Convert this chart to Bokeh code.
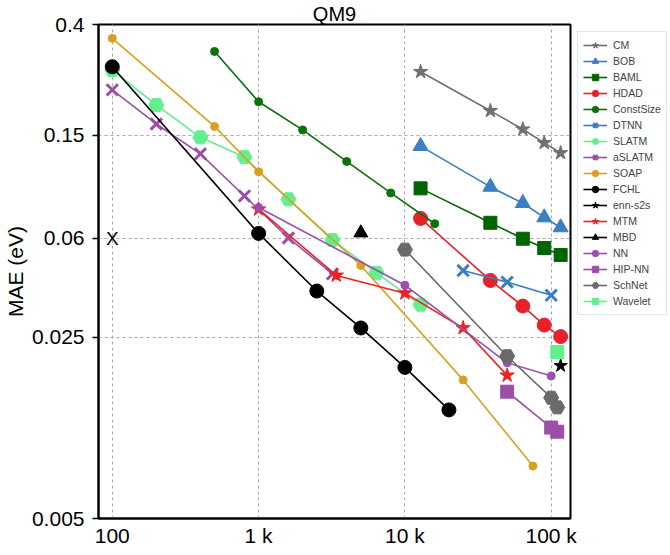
from bokeh.plotting import figure
from bokeh.models import FixedTicker, Legend, LegendItem, Range1d
from bokeh.core.properties import value
from bokeh.embed import file_html
from bokeh.resources import INLINE

FONT = "Liberation Sans"

# ---- axes ----
x_ticks = [100, 1000, 10000, 100000]
x_tick_labels = ["100", "1 k", "10 k", "100 k"]
y_ticks = [0.005, 0.025, 0.06, 0.15, 0.4]
y_tick_labels = ["0.005", "0.025", "0.06", "0.15", "0.4"]

# ---- data (training set size N, MAE in eV) ----
cm_n = [12800, 38400, 64000, 89600, 116000]
cm_mae = [0.263, 0.186, 0.158, 0.140, 0.128]

bob_n = [12800, 38400, 64000, 89600, 116000]
bob_mae = [0.136, 0.0947, 0.082, 0.0722, 0.0661]

baml_n = [12800, 38400, 64000, 89600, 116000]
baml_mae = [0.0935, 0.0689, 0.0598, 0.0551, 0.0518]

hdad_n = [12800, 38400, 64000, 89600, 116000]
hdad_mae = [0.0716, 0.0413, 0.0329, 0.0278, 0.0251]

constsize_n = [500, 1000, 2000, 4000, 8000, 16000]
constsize_mae = [0.315, 0.2015, 0.157, 0.1187, 0.0898, 0.0683]

dtnn_n = [25000, 50000, 100000]
dtnn_mae = [0.0451, 0.0407, 0.0362]

slatm_n = [100, 200, 400, 800, 1600, 3200, 6400, 12800]
slatm_mae = [0.267, 0.196, 0.147, 0.1234, 0.0849, 0.0591, 0.0442, 0.0333]

aslatm_n = [100, 200, 400, 800, 1600, 3200]
aslatm_mae = [0.224, 0.1655, 0.127, 0.0874, 0.0602, 0.0438]

soap_n = [100, 500, 1000, 5000, 25000, 75000]
soap_mae = [0.354, 0.162, 0.1084, 0.0472, 0.0171, 0.00796]

fchl_n = [100, 1000, 2500, 5000, 10000, 20000]
fchl_mae = [0.275, 0.0627, 0.0376, 0.0271, 0.0191, 0.0131]

enn_n = [116000]
enn_mae = [0.0194]

mtm_n = [1000, 3400, 10000, 25000, 50000]
mtm_mae = [0.0777, 0.0432, 0.0369, 0.0271, 0.0178]

mbd_n = [5000]
mbd_mae = [0.063]

nn_n = [1000, 10000, 50000, 100000]
nn_mae = [0.0789, 0.0396, 0.0199, 0.0177]

hipnn_n = [50000, 100000, 110000]
hipnn_mae = [0.0154, 0.0112, 0.0108]

schnet_n = [10000, 50000, 100000, 110000]
schnet_mae = [0.0543, 0.0211, 0.0146, 0.0134]

wavelet_n = [110000]
wavelet_mae = [0.0219]

xmark_n = [100]
xmark_mae = [0.06]
xmark_text = ["X"]

series = [
    ("CM", cm_n, cm_mae, "#707070", "star", 15),
    ("BOB", bob_n, bob_mae, "#3a7fc1", "triangle", 15),
    ("BAML", baml_n, baml_mae, "#006400", "square", 13),
    ("HDAD", hdad_n, hdad_mae, "#e8202a", "circle", 14),
    ("ConstSize", constsize_n, constsize_mae, "#0a720a", "circle", 8),
    ("DTNN", dtnn_n, dtnn_mae, "#3a7fc1", "x", 16),
    ("SLATM", slatm_n, slatm_mae, "#62f08f", "hex", 15),
    ("aSLATM", aslatm_n, aslatm_mae, "#9b4fa6", "x", 16),
    ("SOAP", soap_n, soap_mae, "#d9a01f", "circle", 8),
    ("FCHL", fchl_n, fchl_mae, "#000000", "circle", 14),
    ("enn-s2s", enn_n, enn_mae, "#000000", "star", 14),
    ("MTM", mtm_n, mtm_mae, "#ee2222", "star", 15),
    ("MBD", mbd_n, mbd_mae, "#000000", "triangle", 14),
    ("NN", nn_n, nn_mae, "#9b4fb0", "circle", 8),
    ("HIP-NN", hipnn_n, hipnn_mae, "#9b4fa6", "square", 13),
    ("SchNet", schnet_n, schnet_mae, "#6a6a6a", "hex", 15),
    ("Wavelet", wavelet_n, wavelet_mae, "#62f08f", "square", 13),
]

p = figure(frame_width=472, frame_height=494, x_axis_type="log", y_axis_type="log",
           x_range=Range1d(80.5, 135500), y_range=Range1d(0.005, 0.4),
           output_backend="svg", toolbar_location=None,
           min_border_left=89, min_border_right=0,
           min_border_top=0, min_border_bottom=27,
           title="QM9")

p.title.text_font = FONT
p.title.text_font_size = "20px"
p.title.text_font_style = "normal"
p.title.align = "center"
p.title.text_color = "black"
p.title.standoff = 0
p.title.offset = 0

p.background_fill_color = "white"
p.border_fill_color = "white"
p.outline_line_color = "black"
p.outline_line_width = 2
p.outline_line_alpha = 1

for ax, ticks, labels in ((p.xaxis, x_ticks, x_tick_labels), (p.yaxis, y_ticks, y_tick_labels)):
    ax.ticker = FixedTicker(ticks=ticks, minor_ticks=[])
    ax.major_label_overrides = {t: l for t, l in zip(ticks, labels)}
    ax.major_label_text_font = FONT
    ax.major_label_text_font_size = "21px"
    ax.major_label_text_color = "black"
    ax.axis_line_color = "black"
    ax.axis_line_width = 2
    ax.major_tick_in = 0
    ax.minor_tick_in = 0
    ax.minor_tick_out = 0
    ax.major_tick_line_color = "black"
    ax.major_tick_line_width = 1.5

p.xaxis.major_tick_out = 0
p.xaxis.major_label_standoff = 5
p.yaxis.major_tick_out = 6
p.yaxis.major_label_standoff = 8

p.yaxis.axis_label = "MAE (eV)"
p.yaxis.axis_label_text_font = FONT
p.yaxis.axis_label_text_font_size = "21px"
p.yaxis.axis_label_text_font_style = "normal"
p.yaxis.axis_label_text_color = "black"
p.yaxis.axis_label_standoff = 2

for g in (p.xgrid, p.ygrid):
    g.grid_line_color = "#a8a8a8"
    g.grid_line_dash = "3 3"
    g.grid_line_width = 1

items = []
for name, xs, ys, color, marker, size in series:
    lr = p.line(xs, ys, line_color=color, line_width=1.6)
    if marker == "x":
        sr = p.scatter(xs, ys, marker="x", size=size, line_color=color, line_width=3)
    else:
        sr = p.scatter(xs, ys, marker=marker, size=size, fill_color=color,
                       line_color=color, line_width=1)
    items.append(LegendItem(label=name, renderers=[lr, sr]))

p.text(x=xmark_n, y=xmark_mae, text=xmark_text, text_font=value(FONT),
       text_font_size="19px", text_align="center", text_baseline="middle",
       text_color="black")

legend = Legend(items=items, location="top_left")
legend.label_text_font = FONT
legend.label_text_font_size = "10.5px"
legend.glyph_width = 24
legend.glyph_height = 16
legend.label_height = 16
legend.label_standoff = 6
legend.spacing = 0
legend.padding = 5
legend.margin = 7
legend.border_line_color = "#cccccc"
legend.border_line_width = 1
legend.background_fill_color = "white"
legend.background_fill_alpha = 1
p.add_layout(legend, "right")

open("out.html", "w").write(file_html(p, INLINE))
